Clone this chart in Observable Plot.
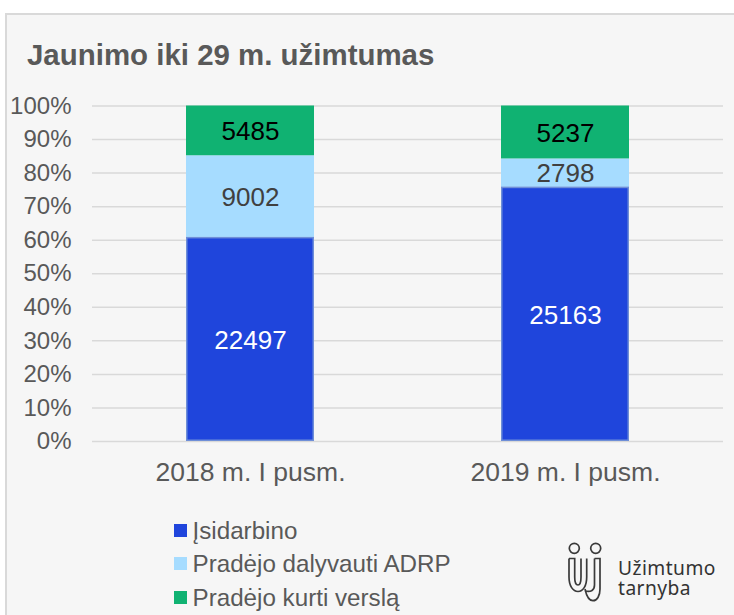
<!DOCTYPE html>
<html>
<head>
<meta charset="utf-8">
<script src="https://cdn.jsdelivr.net/npm/d3@7"></script>
<script src="https://cdn.jsdelivr.net/npm/@observablehq/plot@0.6"></script>
<style>
html,body{margin:0;padding:0;background:#fff;}
body{width:734px;height:615px;overflow:hidden;position:relative;font-family:"Liberation Sans",Arial,sans-serif;}
#panel{position:absolute;left:5px;top:13px;width:729px;height:602px;box-sizing:border-box;background:#f6f6f6;border:2px solid #d9d9d9;border-right:none;border-bottom:none;}
#title{position:absolute;left:27px;top:39px;font-size:29.45px;line-height:31px;font-weight:bold;color:#595959;white-space:nowrap;}
#chart{position:absolute;left:0;top:90px;}
#chart svg{display:block;background:transparent;}
#legend{position:absolute;left:174px;top:514.5px;font-size:24.2px;color:#595959;}
.row{position:relative;height:33.5px;line-height:32px;padding-left:18.5px;white-space:nowrap;}
.sw{position:absolute;left:0;top:9px;width:13px;height:13px;}
#logo{position:absolute;left:566px;top:541px;}
#logotext{position:absolute;left:618px;top:558px;font-family:"Noto Sans",sans-serif;font-size:19.2px;line-height:19.5px;color:#333;letter-spacing:.45px;}
</style>
</head>
<body>
<div id="panel"></div>
<div id="title">Jaunimo iki 29 m. užimtumas</div>
<div id="chart"></div>
<div id="legend"></div>
<svg id="logo" width="40" height="62" viewBox="0 0 40 62" fill="none" stroke="#3a3a3a" stroke-width="1.7">
<circle cx="8.3" cy="7.3" r="5"/><circle cx="29.7" cy="7.3" r="5"/>
<path d="M3 17.5H8.7V36C8.7 41 10 44 12 44C14 44 15 41 15 36V17.5"/>
<path d="M3 17.5V36C3 45 7 50.5 12 50.5C17 50.5 20.7 45 20.7 36V17.5"/>
<path d="M28.5 17.5H34V48C34 55 31 59.7 27 59.7C23 59.7 20.7 56 19 48"/>
<path d="M28.5 17.5V44C28.5 49 25 51.5 19 50"/>
</svg>
<div id="logotext">Užimtumo<br>tarnyba</div>
<script>
const categories = ["2018 m. I pusm.", "2019 m. I pusm."];
const seriesNames = ["Įsidarbino", "Pradėjo dalyvauti ADRP", "Pradėjo kurti verslą"];
const seriesColors = ["#1f45dc", "#a6dcff", "#10b272"];
const labelColors = ["#ffffff", "#404040", "#000000"];
const isidarbino = [22497, 25163];
const adrp = [9002, 2798];
const verslas = [5485, 5237];
const yTicks = [0, 0.1, 0.2, 0.3, 0.4, 0.5, 0.6, 0.7, 0.8, 0.9, 1];

const seriesValues = [isidarbino, adrp, verslas];
const rows = seriesNames.flatMap((s, i) => categories.map((c, j) => ({category: c, series: s, value: seriesValues[i][j], index: i})));
const stack = {x: "category", y: "value", z: "series", offset: "normalize"};

const plot = Plot.plot({
  width: 734,
  height: 400,
  marginTop: 15.5,
  marginBottom: 49,
  marginLeft: 92,
  marginRight: 11,
  style: {fontFamily: "'Liberation Sans', Arial, sans-serif", background: "transparent", overflow: "visible"},
  x: {domain: categories, label: null, paddingInner: 0.595, paddingOuter: 0.2975, align: 0.5},
  y: {domain: [0, 1], label: null},
  color: {domain: seriesNames, range: seriesColors},
  marks: [
    Plot.gridY(yTicks, {stroke: "#d9d9d9", strokeOpacity: 1, strokeWidth: 1.5}),
    Plot.axisY({ticks: yTicks, tickFormat: d => Math.round(d * 100) + "%", tickSize: 0, tickPadding: 21, fontSize: 24, fill: "#595959", label: null}),
    Plot.axisX({tickSize: 0, tickPadding: 21, fontSize: 26.5, fill: "#595959", label: null}),
    Plot.barY(rows, Plot.stackY({...stack, fill: "series"})),
    Plot.barY(rows, Plot.stackY({...stack, fill: "none", inset: 0.75, strokeWidth: 1.5,
      stroke: {value: d => d.index === 0 ? "#6f8fd8" : "none", scale: null}})),
    Plot.text(rows, Plot.stackY({...stack, text: d => String(d.value), fontSize: 26, dy: 1,
      fill: {value: d => labelColors[d.index], scale: null}})),
  ]
});
document.getElementById("chart").appendChild(plot);

const legend = document.getElementById("legend");
seriesNames.forEach((s, i) => {
  const r = document.createElement("div");
  r.className = "row";
  r.innerHTML = `<span class="sw" style="background:${seriesColors[i]}"></span>${s}`;
  legend.appendChild(r);
});
</script>
</body>
</html>
